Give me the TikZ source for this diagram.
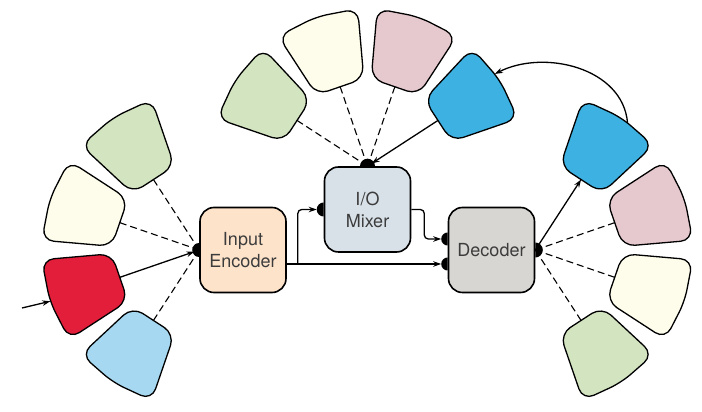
\documentclass[tikz,border=0pt]{standalone}
\usepackage{fontspec}
\setmainfont{TeX Gyre Heros}
\usetikzlibrary{arrows.meta,calc}
\definecolor{sage}{RGB}{211,228,192}
\definecolor{cream}{RGB}{254,252,234}
\definecolor{crimson}{RGB}{226,30,58}
\definecolor{sky}{RGB}{166,217,241}
\definecolor{blush}{RGB}{230,201,206}
\definecolor{azure}{RGB}{60,177,226}
\definecolor{peach}{RGB}{253,227,202}
\definecolor{mist}{RGB}{216,225,232}
\definecolor{stone}{RGB}{215,214,210}
\definecolor{inkgray}{RGB}{60,60,60}

\begin{document}
\begin{tikzpicture}%
	[x=1pt, y=1pt,
	module/.style={draw=black, line width=1.6pt, rounded corners=14pt, minimum width=86pt, minimum height=85pt, inner sep=0pt, align=center, text=inkgray, font=\fontsize{18}{22}\selectfont},
	blob/.style={draw=black, line width=1.3pt, rounded corners=12pt},
	link/.style={black, line width=1.1pt, dash pattern=on 7pt off 4pt},
	wire/.style={black, line width=1.3pt},
	arrowwire/.style={wire, -{Stealth[length=8pt,width=5.5pt]}},
	hubdot/.style={fill=black}]
%
\useasboundingbox (0,0) rectangle (702,412);
%%
%% the three modules
%%
\node[module, fill=peach] (enc) at (243,162) {Input\\Encoder};
\node[module, fill=mist] (mix) at (367.5,202.5) {I/O\\Mixer};
\node[module, fill=stone] (dec) at (491.5,162) {Decoder};
%
\coordinate (enchub) at (enc.west);
\coordinate (mixhub) at (mix.north);
\coordinate (dechub) at (dec.east);
\coordinate (mixin) at (mix.west);
\coordinate (decin1) at ($(dec.west)+(0,11)$);
\coordinate (decin2) at ($(dec.west)+(0,-14)$);
\coordinate (split) at ($(enc.east |- decin2)+(11,0)$);
\coordinate (src) at (22,104);
%%
%% the ports
%%
\fill[hubdot] (enchub) ++(0,7) arc[start angle=90, end angle=270, radius=7pt] -- cycle;
\fill[hubdot] (mixin) ++(0,7) arc[start angle=90, end angle=270, radius=7pt] -- cycle;
\fill[hubdot] (decin1) ++(0,6.5) arc[start angle=90, end angle=270, radius=6.5pt] -- cycle;
\fill[hubdot] (decin2) ++(0,6.5) arc[start angle=90, end angle=270, radius=6.5pt] -- cycle;
\fill[hubdot] (mixhub) ++(7.5,0) arc[start angle=0, end angle=180, radius=7.5pt] -- cycle;
\fill[hubdot] (dechub) ++(0,-7.5) arc[start angle=270, end angle=450, radius=7.5pt] -- cycle;
%%
%% the fans
%%
\foreach \ang/\col/\nm in {123/sage/encA, 161/cream/encB, 199/crimson/encC, 237/sky/encD}
{
	\begin{scope}[shift={(enchub)}, rotate=\ang]
	\draw[blob, fill=\col] (84,-25) -- (152,-42) -- (158,0) -- (152,42) -- (84,25) -- cycle;
	\coordinate (\nm) at (84,0);
	\coordinate (\nm-out) at (157.5,0);
	\end{scope}
}
\foreach \ang/\col/\nm in {147/sage/mixA, 109/cream/mixB, 71/blush/mixC, 33/azure/mixD}
{
	\begin{scope}[shift={(mixhub)}, rotate=\ang]
	\draw[blob, fill=\col] (84,-25) -- (152,-42) -- (158,0) -- (152,42) -- (84,25) -- cycle;
	\coordinate (\nm) at (84,0);
	\coordinate (\nm-out) at (157,8);
	\end{scope}
}
\foreach \ang/\col/\nm in {57/azure/decA, 19/blush/decB, -19/cream/decC, -57/sage/decD}
{
	\begin{scope}[shift={(dechub)}, rotate=\ang]
	\draw[blob, fill=\col] (84,-25) -- (152,-42) -- (158,0) -- (152,42) -- (84,25) -- cycle;
	\coordinate (\nm) at (84,0);
	\coordinate (\nm-out) at (157,-8);
	\end{scope}
}
%%
%% fan connectors
%%
\draw[link] (encA) -- (enchub);
\draw[link] (encB) -- (enchub);
\draw[arrowwire, shorten >=5pt] (encC) -- (enchub);
\draw[link] (encD) -- (enchub);
\draw[link] (mixA) -- (mixhub);
\draw[link] (mixB) -- (mixhub);
\draw[link] (mixC) -- (mixhub);
\draw[arrowwire, shorten >=5pt] (mixD) -- (mixhub);
\draw[arrowwire] (dechub) -- (decA);
\draw[link] (dechub) -- (decB);
\draw[link] (dechub) -- (decC);
\draw[link] (dechub) -- (decD);
%%
%% module wiring
%%
\draw[arrowwire, shorten >=6.5pt] (enc.east |- decin2) -- (decin2);
\draw[arrowwire, rounded corners=4pt, shorten >=7pt] (split) |- (mixin);
\draw[arrowwire, rounded corners=4pt, shorten >=6.5pt] (mix.east) -- ++(13,0) |- (decin1);
\draw[arrowwire] (src) -- (encC-out);
\draw[arrowwire] (decA-out) to[out=95, in=27] (mixD-out);

\end{tikzpicture}
\end{document}
